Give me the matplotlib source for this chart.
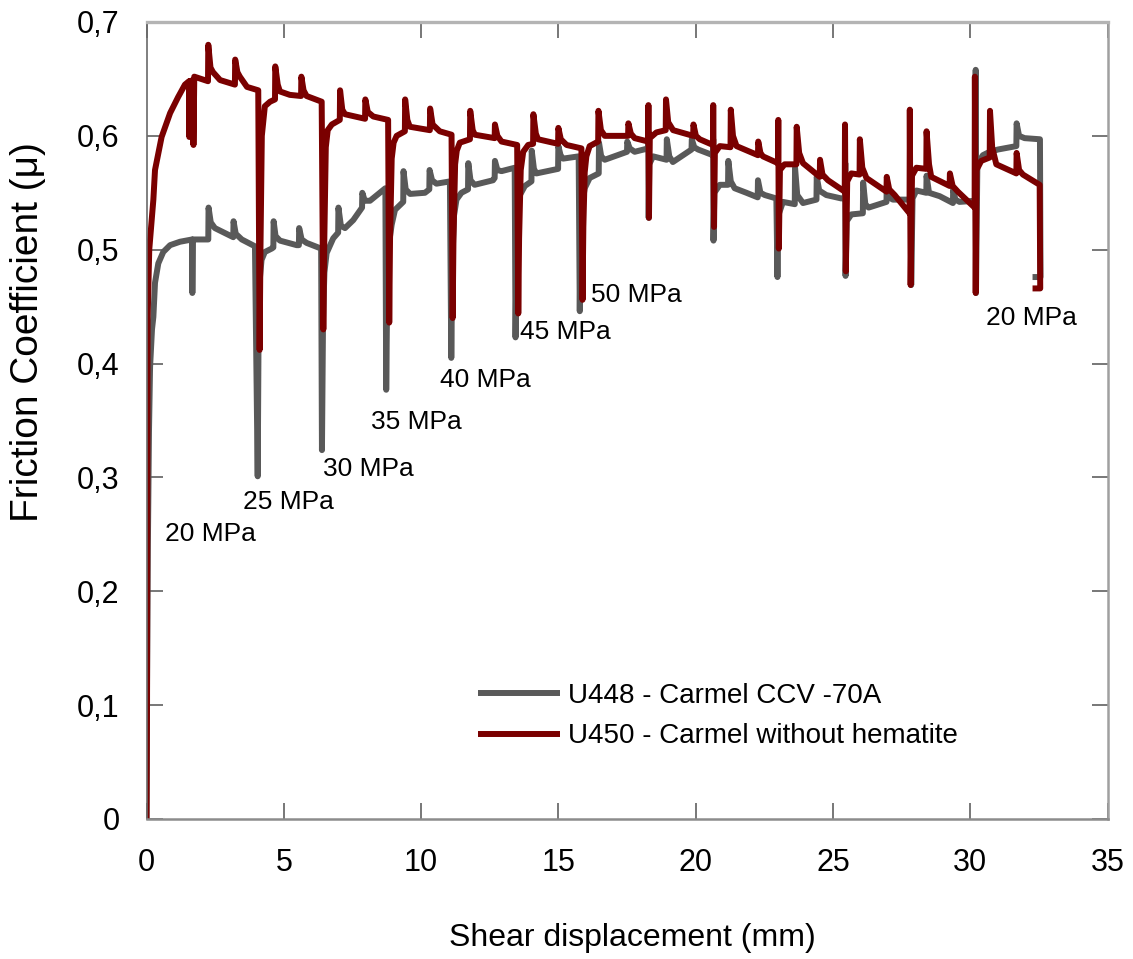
import matplotlib
matplotlib.use("Agg")
import matplotlib.pyplot as plt
from matplotlib.ticker import FuncFormatter, MultipleLocator

plt.rcParams["font.family"] = ["Liberation Sans", "DejaVu Sans"]

# U448 - Carmel CCV -70A : shear displacement (mm) and friction coefficient
gray_x = [0.00, 0.02, 0.05, 0.09, 0.13, 0.20, 0.25, 0.31, 0.43, 0.61, 0.86, 1.22, 1.66, 1.67, 1.69,
          2.25, 2.26, 2.34, 2.49, 3.16, 3.17, 3.25, 3.47, 3.95, 4.05, 4.08, 4.13, 4.19, 4.31, 4.56,
          4.62, 4.63, 4.70, 4.86, 5.47, 5.55, 5.56, 5.65, 5.83, 6.36, 6.39, 6.43, 6.48, 6.56, 6.80,
          6.98, 6.99, 7.08, 7.23, 7.53, 7.85, 7.86, 7.95, 8.14, 8.50, 8.70, 8.73, 8.77, 8.83, 8.93,
          9.05, 9.35, 9.36, 9.44, 9.60, 10.14, 10.30, 10.31, 10.40, 10.56, 11.05, 11.10, 11.14, 11.20,
          11.29, 11.47, 11.71, 11.72, 11.80, 11.95, 12.62, 12.68, 12.69, 12.78, 12.93, 13.41, 13.44,
          13.48, 13.54, 13.60, 13.78, 14.02, 14.03, 14.11, 14.20, 14.99, 15.00, 15.08, 15.17, 15.74,
          15.78, 15.81, 15.87, 15.96, 16.14, 16.47, 16.48, 16.56, 16.69, 17.50, 17.51, 17.60, 17.78,
          18.27, 18.28, 18.29, 18.31, 18.45, 18.94, 18.95, 19.04, 19.17, 19.85, 19.86, 19.95, 20.09,
          20.63, 20.64, 20.65, 20.68, 20.88, 21.18, 21.19, 21.28, 21.42, 21.85, 22.26, 22.27, 22.36,
          22.52, 22.94, 22.98, 23.01, 23.18, 23.61, 23.62, 23.70, 23.91, 24.40, 24.41, 24.50, 24.76,
          25.31, 25.44, 25.45, 25.46, 25.50, 25.67, 26.09, 26.10, 26.18, 26.30, 26.95, 26.96, 27.05,
          27.18, 27.84, 27.85, 27.90, 28.04, 28.40, 28.41, 28.50, 28.89, 29.37, 29.38, 29.46, 29.61,
          30.18, 30.20, 30.21, 30.26, 30.46, 30.71, 31.01, 31.68, 31.69, 31.78, 31.98, 32.54, 32.56,
          32.27]
gray_mu = [0.000, 0.120, 0.240, 0.340, 0.397, 0.430, 0.441, 0.471, 0.488, 0.498, 0.504, 0.507, 0.509, 0.462, 0.509,
           0.509, 0.537, 0.524, 0.519, 0.511, 0.525, 0.514, 0.509, 0.503, 0.301, 0.420, 0.475, 0.491, 0.498, 0.501,
           0.502, 0.525, 0.512, 0.508, 0.504, 0.504, 0.519, 0.509, 0.506, 0.501, 0.324, 0.440, 0.480, 0.497, 0.510,
           0.515, 0.537, 0.521, 0.519, 0.526, 0.537, 0.550, 0.543, 0.543, 0.550, 0.554, 0.377, 0.470, 0.505, 0.522,
           0.535, 0.542, 0.569, 0.553, 0.549, 0.550, 0.553, 0.570, 0.561, 0.558, 0.560, 0.405, 0.490, 0.530,
           0.544, 0.550, 0.553, 0.576, 0.561, 0.557, 0.561, 0.563, 0.578, 0.570, 0.569, 0.572, 0.423,
           0.500, 0.535, 0.548, 0.556, 0.560, 0.587, 0.571, 0.567, 0.571, 0.591, 0.583, 0.580, 0.582,
           0.446, 0.510, 0.540, 0.554, 0.563, 0.567, 0.594, 0.582, 0.579, 0.586, 0.595, 0.589, 0.586,
           0.589, 0.604, 0.528, 0.575, 0.582, 0.579, 0.597, 0.582, 0.577, 0.588, 0.597, 0.590, 0.588,
           0.583, 0.597, 0.508, 0.550, 0.557, 0.557, 0.578, 0.560, 0.554, 0.550, 0.546, 0.561, 0.550,
           0.548, 0.545, 0.476, 0.530, 0.542, 0.540, 0.572, 0.548, 0.541, 0.544, 0.564, 0.552, 0.548,
           0.545, 0.546, 0.576, 0.477, 0.525, 0.531, 0.532, 0.559, 0.540, 0.537, 0.542, 0.556, 0.546,
           0.544, 0.544, 0.469, 0.545, 0.552, 0.550, 0.565, 0.550, 0.547, 0.541, 0.553, 0.544, 0.542,
           0.543, 0.658, 0.462, 0.575, 0.583, 0.586, 0.588, 0.591, 0.611, 0.600, 0.598, 0.597, 0.476,
           0.476]

# U450 - Carmel without hematite
red_x = [0.00, 0.02, 0.03, 0.04, 0.10, 0.19, 0.25, 0.31, 0.55, 0.86, 1.15, 1.40, 1.55, 1.56, 1.58,
         1.70, 1.71, 1.74, 2.24, 2.25, 2.33, 2.42, 2.68, 3.22, 3.23, 3.31, 3.40, 3.66, 4.07, 4.12,
         4.15, 4.20, 4.31, 4.50, 4.68, 4.69, 4.78, 4.86, 5.22, 5.63, 5.64, 5.72, 5.83, 6.38, 6.44,
         6.47, 6.53, 6.60, 6.75, 7.04, 7.05, 7.13, 7.23, 7.77, 7.96, 7.97, 8.06, 8.26, 8.80, 8.84,
         8.87, 8.93, 9.00, 9.11, 9.41, 9.42, 9.50, 9.59, 10.32, 10.33, 10.42, 10.68, 11.11, 11.15,
         11.18, 11.24, 11.30, 11.41, 11.78, 11.79, 11.88, 11.96, 12.68, 12.69, 12.78, 12.93, 13.50,
         13.54, 13.57, 13.63, 13.72, 13.90, 14.08, 14.09, 14.18, 14.26, 14.99, 15.00, 15.09, 15.30,
         15.84, 15.88, 15.91, 15.96, 16.02, 16.14, 16.45, 16.46, 16.55, 16.69, 17.54, 17.55, 17.64,
         17.78, 18.27, 18.28, 18.30, 18.33, 18.57, 18.91, 18.92, 19.00, 19.18, 19.91, 19.92, 20.01,
         20.15, 20.63, 20.64, 20.67, 20.70, 20.88, 21.27, 21.28, 21.36, 21.49, 22.27, 22.28, 22.36,
         22.45, 23.00, 23.01, 23.03, 23.07, 23.24, 23.67, 23.68, 23.77, 23.91, 24.52, 24.53, 24.62,
         24.82, 25.43, 25.44, 25.47, 25.52, 25.67, 25.97, 25.98, 26.07, 26.22, 26.95, 26.96, 27.05,
         27.25, 27.79, 27.80, 27.83, 27.88, 28.04, 28.40, 28.41, 28.50, 28.58, 29.25, 29.26, 29.36,
         29.55, 30.16, 30.17, 30.20, 30.23, 30.40, 30.71, 30.72, 30.80, 30.95, 31.68, 31.69, 31.78,
         31.92, 32.53, 32.55, 32.27]
red_mu = [0.000, 0.105, 0.300, 0.438, 0.500, 0.526, 0.544, 0.570, 0.599, 0.620, 0.634, 0.645, 0.648, 0.599, 0.648,
          0.649, 0.592, 0.652, 0.648, 0.680, 0.660, 0.656, 0.649, 0.645, 0.667, 0.656, 0.652, 0.643, 0.640, 0.412,
          0.500, 0.600, 0.626, 0.630, 0.632, 0.661, 0.645, 0.639, 0.636, 0.635, 0.652, 0.640, 0.635, 0.630, 0.430,
          0.500, 0.590, 0.605, 0.610, 0.614, 0.640, 0.623, 0.619, 0.616, 0.615, 0.632, 0.621, 0.617, 0.614, 0.436,
          0.510, 0.580, 0.594, 0.600, 0.604, 0.632, 0.614, 0.608, 0.605, 0.624, 0.610, 0.604, 0.601, 0.440,
          0.510, 0.575, 0.587, 0.594, 0.597, 0.622, 0.605, 0.601, 0.598, 0.610, 0.600, 0.595, 0.592,
          0.444, 0.510, 0.570, 0.586, 0.592, 0.593, 0.619, 0.602, 0.597, 0.593, 0.607, 0.597, 0.592,
          0.589, 0.456, 0.520, 0.568, 0.582, 0.591, 0.595, 0.622, 0.605, 0.600, 0.600, 0.611, 0.602,
          0.598, 0.595, 0.627, 0.528, 0.598, 0.603, 0.605, 0.632, 0.612, 0.605, 0.600, 0.610, 0.600,
          0.597, 0.592, 0.627, 0.520, 0.585, 0.591, 0.590, 0.623, 0.600, 0.591, 0.583, 0.595, 0.585,
          0.582, 0.576, 0.614, 0.501, 0.570, 0.575, 0.575, 0.608, 0.585, 0.576, 0.564, 0.579, 0.566,
          0.561, 0.551, 0.610, 0.481, 0.560, 0.567, 0.566, 0.597, 0.572, 0.563, 0.551, 0.564, 0.553,
          0.548, 0.532, 0.623, 0.469, 0.565, 0.572, 0.571, 0.604, 0.575, 0.564, 0.556, 0.567, 0.556,
          0.551, 0.537, 0.652, 0.462, 0.570, 0.578, 0.581, 0.622, 0.590, 0.575, 0.567, 0.585, 0.570,
          0.566, 0.557, 0.466, 0.466]

series_labels = ["U448 - Carmel CCV -70A", "U450 - Carmel without hematite"]
series_colors = ["#595959", "#7a0000"]

# normal stress annotations (text left edge, vertical centre)
stress_labels = ["20 MPa", "25 MPa", "30 MPa", "35 MPa", "40 MPa", "45 MPa", "50 MPa", "20 MPa"]
stress_label_x = [0.67, 3.50, 6.41, 8.17, 10.68, 13.62, 16.18, 30.56]
stress_label_mu = [0.250, 0.278, 0.307, 0.349, 0.386, 0.428, 0.460, 0.440]

W, H = 1133, 959
fig = plt.figure(figsize=(W / 100, H / 100), dpi=100)
ax = fig.add_axes([146.5 / W, 1 - 819 / H, 961 / W, 797 / H])

ax.plot(gray_x, gray_mu, color=series_colors[0], lw=4.3, label=series_labels[0],
        solid_joinstyle="round", solid_capstyle="butt")
ax.plot(red_x, red_mu, color=series_colors[1], lw=4.3, label=series_labels[1],
        solid_joinstyle="round", solid_capstyle="butt")

for txt, tx, ty in zip(stress_labels, stress_label_x, stress_label_mu):
    ax.text(tx, ty, txt, fontsize=19, ha="left", va="center", color="black")

ax.set_xlim(0, 35)
ax.set_ylim(0, 0.7)
ax.xaxis.set_major_locator(MultipleLocator(5))
ax.yaxis.set_major_locator(MultipleLocator(0.1))
ax.yaxis.set_major_formatter(FuncFormatter(
    lambda v, p: "0" if abs(v) < 1e-9 else f"{v:.1f}".replace(".", ",")))

ax.tick_params(axis="both", direction="in", length=11.5, width=1.2, color="#606060",
               top=True, right=True, labelsize=22)
ax.tick_params(axis="y", pad=19.5)
ax.tick_params(axis="x", pad=21)

ax.spines["left"].set_color("#6a6a6a")
ax.spines["left"].set_linewidth(1.2)
ax.spines["top"].set_color("#b4b4b4")
ax.spines["top"].set_linewidth(2.4)
ax.spines["right"].set_color("#a0a0a0")
ax.spines["right"].set_linewidth(1.8)
ax.spines["bottom"].set_color("#8c8c8c")
ax.spines["bottom"].set_linewidth(1.8)

fig.text(632 / W, 1 - 938 / H, "Shear displacement (mm)", fontsize=23, ha="center", va="center")
fig.text(28 / W, 1 - 332 / H, "Friction Coefficient (μ)", fontsize=28, ha="center", va="center",
         rotation=90)

ax.legend(loc="upper left", bbox_to_anchor=(478 / W, 1 - 683 / H), bbox_transform=fig.transFigure,
          frameon=False, fontsize=20, handlelength=2.95, handletextpad=0.29, borderpad=0,
          borderaxespad=0, labelspacing=0.52)

fig.savefig("out.png", dpi=100)
